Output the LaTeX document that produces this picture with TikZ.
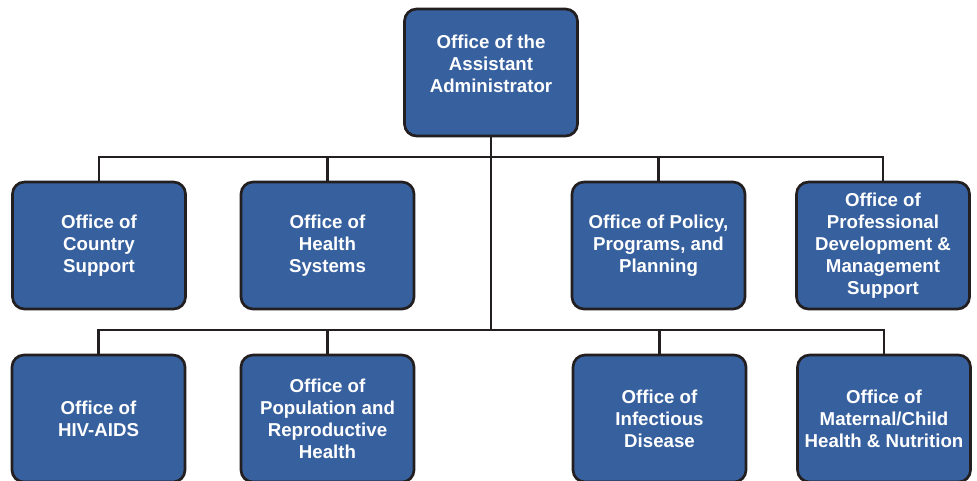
\documentclass[tikz,border=0pt]{standalone}
\usepackage{fontspec}
\setmainfont{Liberation Sans}
\definecolor{officeblue}{RGB}{55,96,158}
\definecolor{lineblack}{RGB}{35,31,32}

\begin{document}
\begin{tikzpicture}[x=0.75pt,y=-0.75pt]
	\tikzstyle{office}=[rectangle,rounded corners=9pt,draw=lineblack,line width=2pt,fill=officeblue,text=white,font=\fontsize{14}{16.5}\selectfont\bfseries,align=center,minimum width=129.75pt,minimum height=95.25pt,inner sep=2pt]
	\tikzstyle{link}=[draw=lineblack,line width=1.6pt]
	\useasboundingbox (0,0) rectangle (977,480);
	
	\node[office](aa) at (491,72.5) {Office of the\\Assistant\\Administrator\\[-4pt]\mbox{}};
	
	% first row
	\node[office](cs) at (99,245.5) {Office of\\Country\\Support};
	\node[office](hs) at (327.5,245.5) {Office of\\Health\\Systems};
	\node[office](ppp) at (658.5,245.5) {Office of Policy,\\Programs, and\\Planning};
	\node[office](pdm) at (883,245.5) {Office of\\Professional\\Development \&\\Management\\Support};
	
	% second row
	\node[office](hiv) at (98.5,418.5) {Office of\\HIV-AIDS};
	\node[office](prh) at (327.5,418.5) {Office of\\Population and\\Reproductive\\Health};
	\node[office](id) at (659.5,418.5) {Office of\\Infectious\\Disease};
	\node[office](mch) at (884,418.5) {Office of\\Maternal/Child\\Health \& Nutrition};
	
	\coordinate (bara) at (491,157);
	\coordinate (barb) at (491,330);
	
	\begin{scope}[on background layer/.try]
	\draw[link] (aa.south) -- (barb);
	\draw[link] (cs.north) |- (bara) -| (pdm.north);
	\draw[link] (hs.north) |- (bara);
	\draw[link] (ppp.north) |- (bara);
	\draw[link] (hiv.north) |- (barb) -| (mch.north);
	\draw[link] (prh.north) |- (barb);
	\draw[link] (id.north) |- (barb);
	\end{scope}
\end{tikzpicture}
\end{document}
